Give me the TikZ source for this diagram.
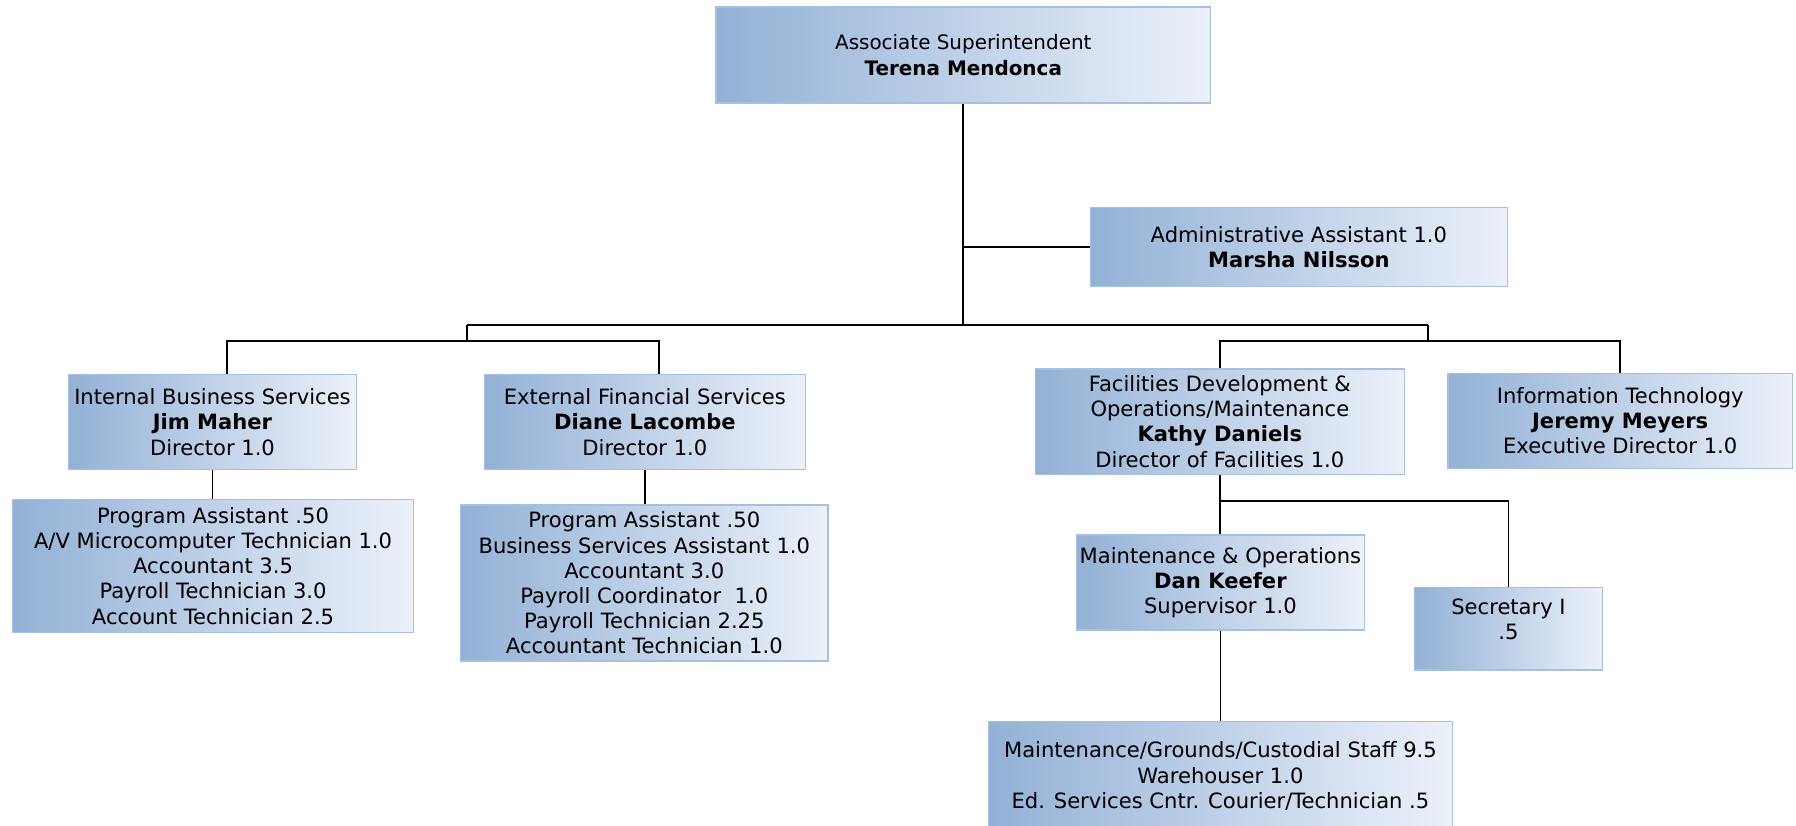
\documentclass[tikz,border=0pt]{standalone}
\usepackage{fontspec}
\setmainfont{DejaVu Sans}
\definecolor{gl}{RGB}{147,177,214}
\definecolor{gr}{RGB}{236,241,250}
\definecolor{bc}{RGB}{166,192,226}
\tikzset{
 orgbox/.style={draw=bc, line width=0.6pt, left color=gl, right color=gr, align=center, inner sep=0pt, font=\fontsize{9.2}{11}\selectfont, text=black},
 orgtext/.style={align=center, inner sep=0pt, font=\fontsize{9.2}{11}\selectfont, text=black},
 link/.style={draw=black, line width=0.8pt},
}
\begin{document}
\begin{tikzpicture}[x=0.5pt,y=-0.5pt]
\fill[white] (0,0) rectangle (1568,721);
\useasboundingbox (0,0) rectangle (1568,721);
% boxes
\node[orgbox, minimum width=216pt, minimum height=42pt, font=\fontsize{8.7}{11}\selectfont] (top) at (841,48) {Associate Superintendent\\\textbf{Terena Mendonca}};
\node[orgbox, minimum width=182pt, minimum height=34.5pt] (admin) at (1134,215.5) {Administrative Assistant 1.0\\\textbf{Marsha Nilsson}};
\node[orgbox, minimum width=125.5pt, minimum height=41.5pt] (ibs) at (185.5,368.5) {Internal Business Services\\\textbf{Jim Maher}\\Director 1.0};
\node[orgbox, minimum width=175pt, minimum height=58pt] (ibsstaff) at (186,494) {Program Assistant .50\\A/V Microcomputer Technician 1.0\\Accountant 3.5\\Payroll Technician 3.0\\Account Technician 2.5};
\node[orgbox, minimum width=140pt, minimum height=41.5pt] (efs) at (563,368.5) {External Financial Services\\\textbf{Diane Lacombe}\\Director 1.0};
\node[orgbox, minimum width=160.5pt, minimum height=68pt] (efsstaff) at (562.5,509) {Program Assistant .50\\Business Services Assistant 1.0\\Accountant 3.0\\Payroll Coordinator\ \ 1.0\\Payroll Technician 2.25\\Accountant Technician 1.0};
\node[orgbox, minimum width=161pt, minimum height=46pt] (fac) at (1065,368) {Facilities Development \&\\Operations/Maintenance\\\textbf{Kathy Daniels}\\Director of Facilities 1.0};
\node[orgbox, minimum width=150.5pt, minimum height=41.5pt] (it) at (1414.5,367.5) {Information Technology\\\textbf{Jeremy Meyers}\\Executive Director 1.0};
\node[orgbox, minimum width=125.5pt, minimum height=41.5pt] (maint) at (1065.5,508.5) {Maintenance \& Operations\\\textbf{Dan Keefer}\\Supervisor 1.0};
\node[orgbox, minimum width=82pt, minimum height=36pt] (sec) at (1317,549) {};
\node[orgtext] (sectext) at (1317,541) {Secretary I\\.5};
\node[orgbox, minimum width=202.5pt, minimum height=47.5pt] (mstaff) at (1065.5,677.5) {Maintenance/Grounds/Custodial Staff 9.5\\Warehouser 1.0\\Ed. Services Cntr. Courier/Technician .5};
% junctions
\coordinate (jl) at (408,284);
\coordinate (jr) at (1247,284);
\coordinate (jl2) at (408,298);
\coordinate (jr2) at (1247,298);
\coordinate (cL) at (198,298);
\coordinate (cR) at (575,298);
\coordinate (fb) at (1065,437.5);
% connectors
\draw[link] (top.south) -- (top.south |- jl);
\draw[link] (admin.west) -- (admin.west -| top.south);
\draw[link] (jl) -- (jr);
\draw[link] (jl) -- (jl2);
\draw[link] (jr) -- (jr2);
\draw[link] (cL |- ibs.north) -- (cL) -- (cR) -- (cR |- efs.north);
\draw[link] (fac.north) |- (jr2) -| (it.north);
\draw[link] (ibs.south) -- (ibs.south |- ibsstaff.north);
\draw[link] (efs.south) -- (efs.south |- efsstaff.north);
\draw[link] (fac.south) -- (fac.south |- maint.north);
\draw[link] (fb) -| (sec.north);
\draw[link] (maint.south) -- (maint.south |- mstaff.north);
\end{tikzpicture}
\end{document}
